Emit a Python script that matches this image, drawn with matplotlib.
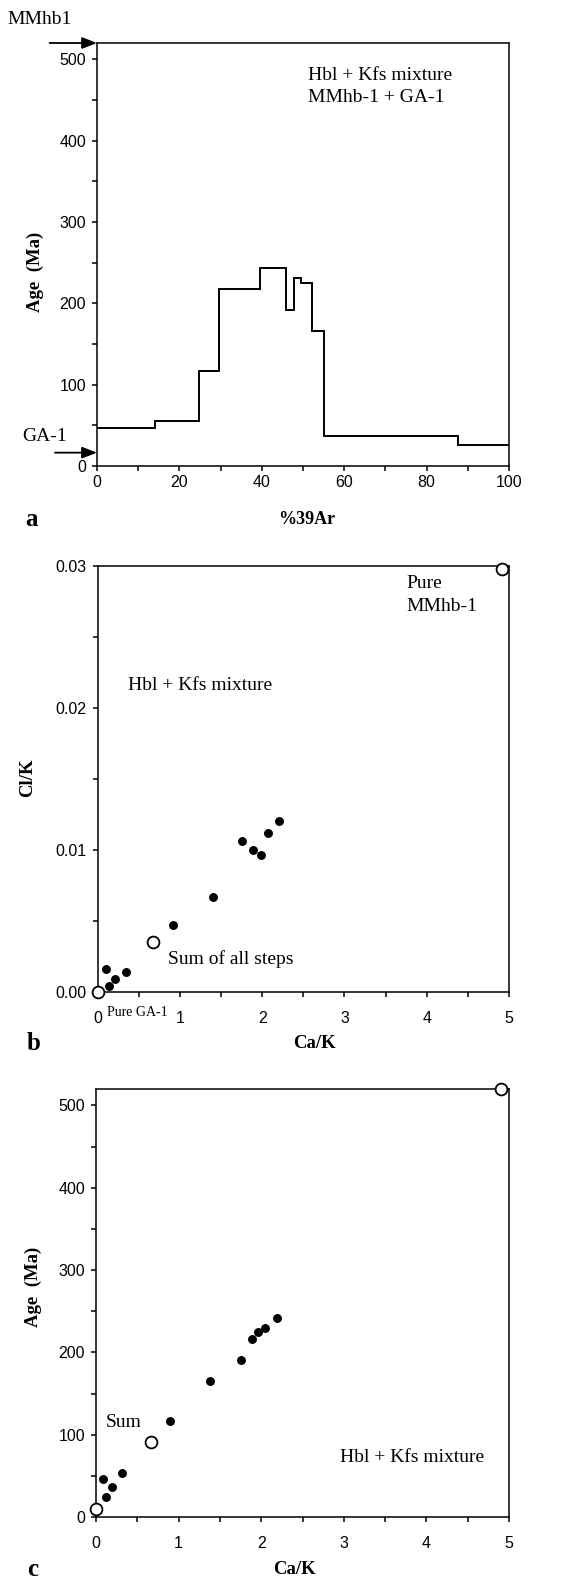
import matplotlib
matplotlib.use("Agg")
import matplotlib.pyplot as plt
from matplotlib.ticker import MultipleLocator, FormatStrFormatter

# ---------------- data ----------------
# Panel a: age spectrum (step heating)
step_edges = [0, 14.1, 24.7, 29.6, 39.6, 45.9, 47.7, 49.6, 52.3, 55.1, 87.5, 100]
step_ages = [46.7, 55.3, 117, 217, 244, 192, 231, 225, 165.6, 37.3, 25.4]
step_err = [0, 0, 1.0, 0, 1.2, 1.0, 1.0, 1.0, 1.0, 0, 0]
mmhb1_age = 520
ga1_age = 16.4

# Panel b: Cl/K vs Ca/K (individual steps)
b_cak = [0.10, 0.14, 0.21, 0.34, 0.92, 1.40, 1.75, 1.89, 1.99, 2.07, 2.21]
b_clk = [0.00162, 0.0004, 0.00092, 0.00139, 0.00468, 0.0067, 0.01064, 0.00998, 0.00965, 0.01122, 0.0120]
# open symbols: pure GA-1, sum of all steps, pure MMhb-1
b_open_cak = [0.0, 0.67, 4.91]
b_open_clk = [0.0, 0.00353, 0.02976]

# Panel c: Age vs Ca/K
c_cak = [0.089, 0.125, 0.198, 0.32, 0.90, 1.38, 1.75, 1.89, 1.96, 2.05, 2.19]
c_age = [45.8, 24.3, 36.1, 53.5, 116.4, 165.5, 191, 216.5, 224.3, 230, 241.7]
c_open_cak = [0.0, 0.66, 4.90]
c_open_age = [10, 90.8, 520]

# ---------------- style ----------------
W, H = 578, 1580
fig = plt.figure(figsize=(W / 100, H / 100), dpi=100)
SANS = ["Liberation Sans", "DejaVu Sans"]
SERIF = ["Liberation Serif", "DejaVu Serif"]
LW = 1.1
TXT = 14


def fpos(left, top, right, bottom):
    return [left / W, 1 - bottom / H, (right - left) / W, (bottom - top) / H]


def style_axes(ax, xpad, ypad=4.5):
    for s in ax.spines.values():
        s.set_linewidth(LW)
    ax.tick_params(which="both", direction="out", width=LW, top=False, right=False)
    ax.tick_params(which="major", length=3.5)
    ax.tick_params(which="minor", length=3.5)
    ax.tick_params(axis="x", which="major", pad=xpad)
    ax.tick_params(axis="y", which="major", pad=ypad)
    for lab in ax.get_xticklabels() + ax.get_yticklabels():
        lab.set_family(SANS)
        lab.set_fontsize(11.5)


def ftext(x, y, s, **kw):
    fig.text(x / W, 1 - y / H, s, **kw)


# ---------------- panel a ----------------
axa = fig.add_axes(fpos(97, 43, 509, 466))
axa.stairs(step_ages, step_edges, baseline=None, color="black", lw=1.4)
lefts = step_edges[:-1]
widths = [step_edges[i + 1] - step_edges[i] for i in range(len(step_ages))]
bots = [a - e for a, e in zip(step_ages, step_err)]
hts = [2 * e for e in step_err]
axa.bar(lefts, hts, width=widths, bottom=bots, align="edge", color="black", lw=0)
axa.set_xlim(0, 100)
axa.set_ylim(0, 520)
axa.xaxis.set_major_locator(MultipleLocator(20))
axa.xaxis.set_minor_locator(MultipleLocator(10))
axa.yaxis.set_major_locator(MultipleLocator(100))
axa.yaxis.set_minor_locator(MultipleLocator(50))
style_axes(axa, xpad=3)

arrow_kw = dict(arrowstyle="-|>,head_length=0.9,head_width=0.35", color="black", lw=1.3,
                shrinkA=0, shrinkB=0)
axa.annotate("", xy=(0, mmhb1_age), xytext=(-0.115, mmhb1_age),
             xycoords="data", textcoords=("axes fraction", "data"),
             arrowprops=arrow_kw, annotation_clip=False)
axa.annotate("", xy=(0, ga1_age), xytext=(-0.102, ga1_age),
             xycoords="data", textcoords=("axes fraction", "data"),
             arrowprops=arrow_kw, annotation_clip=False)
ftext(7, 20, "MMhb1", family=SERIF, fontsize=TXT, va="center", ha="left")
ftext(22, 437, "GA-1", family=SERIF, fontsize=TXT, va="center", ha="left")
axa.text(0.512, 0.924, "Hbl + Kfs mixture", transform=axa.transAxes, family=SERIF,
         fontsize=TXT, va="center", ha="left")
axa.text(0.512, 0.870, "MMhb-1 + GA-1", transform=axa.transAxes, family=SERIF,
         fontsize=TXT, va="center", ha="left")
ftext(35, 272, "Age  (Ma)", family=SERIF, fontweight="bold", fontsize=13.5,
      rotation=90, va="center", ha="center")
ftext(307, 520, "%39Ar", family=SERIF, fontweight="bold", fontsize=13, va="center", ha="center")
ftext(25, 520, "a", family=SERIF, fontweight="bold", fontsize=18, va="center", ha="left")

# ---------------- panel b ----------------
axb = fig.add_axes(fpos(97.7, 565.7, 509, 992))
axb.plot(b_cak, b_clk, "o", color="black", ms=5.4, clip_on=False, zorder=3)
axb.plot(b_open_cak, b_open_clk, "o", mfc="white", mec="black", mew=1.3, ms=8.5,
         clip_on=False, zorder=4)
axb.set_xlim(0, 5)
axb.set_ylim(0, 0.03)
axb.xaxis.set_major_locator(MultipleLocator(1))
axb.xaxis.set_minor_locator(MultipleLocator(0.5))
axb.yaxis.set_major_locator(MultipleLocator(0.01))
axb.yaxis.set_minor_locator(MultipleLocator(0.005))
axb.yaxis.set_major_formatter(FormatStrFormatter("%.2f"))
axb.xaxis.set_major_formatter(FormatStrFormatter("%d"))
style_axes(axb, xpad=10)
axb.text(0.75, 0.959, "Pure", transform=axb.transAxes, family=SERIF, fontsize=TXT,
         va="center", ha="left")
axb.text(0.75, 0.905, "MMhb-1", transform=axb.transAxes, family=SERIF, fontsize=TXT,
         va="center", ha="left")
axb.text(0.074, 0.718, "Hbl + Kfs mixture", transform=axb.transAxes, family=SERIF,
         fontsize=TXT, va="center", ha="left")
axb.text(0.171, 0.077, "Sum of all steps", transform=axb.transAxes, family=SERIF,
         fontsize=TXT, va="center", ha="left")
ftext(107, 1013, "Pure GA-1", family=SERIF, fontsize=10, va="center", ha="left")
ftext(28, 778, "Cl/K", family=SERIF, fontweight="bold", fontsize=13.5,
      rotation=90, va="center", ha="center")
ftext(314, 1043, "Ca/K", family=SERIF, fontweight="bold", fontsize=13.5, va="center", ha="center")
ftext(27, 1043, "b", family=SERIF, fontweight="bold", fontsize=18, va="center", ha="left")

# ---------------- panel c ----------------
axc = fig.add_axes(fpos(96, 1089, 509, 1517))
axc.plot(c_cak, c_age, "o", color="black", ms=5.4, clip_on=False, zorder=3)
axc.plot(c_open_cak, c_open_age, "o", mfc="white", mec="black", mew=1.3, ms=8.5,
         clip_on=False, zorder=4)
axc.set_xlim(0, 5)
axc.set_ylim(0, 520)
axc.xaxis.set_major_locator(MultipleLocator(1))
axc.xaxis.set_minor_locator(MultipleLocator(0.5))
axc.yaxis.set_major_locator(MultipleLocator(100))
axc.yaxis.set_minor_locator(MultipleLocator(50))
axc.xaxis.set_major_formatter(FormatStrFormatter("%d"))
style_axes(axc, xpad=10)
axc.text(0.024, 0.22, "Sum", transform=axc.transAxes, family=SERIF, fontsize=TXT,
         va="center", ha="left")
axc.text(0.59, 0.138, "Hbl + Kfs mixture", transform=axc.transAxes, family=SERIF,
         fontsize=TXT, va="center", ha="left")
ftext(33, 1287, "Age  (Ma)", family=SERIF, fontweight="bold", fontsize=13.5,
      rotation=90, va="center", ha="center")
ftext(294, 1570, "Ca/K", family=SERIF, fontweight="bold", fontsize=13.5, va="center", ha="center")
ftext(27, 1570, "c", family=SERIF, fontweight="bold", fontsize=18, va="center", ha="left")

fig.savefig("out.png", dpi=100, facecolor="white")
